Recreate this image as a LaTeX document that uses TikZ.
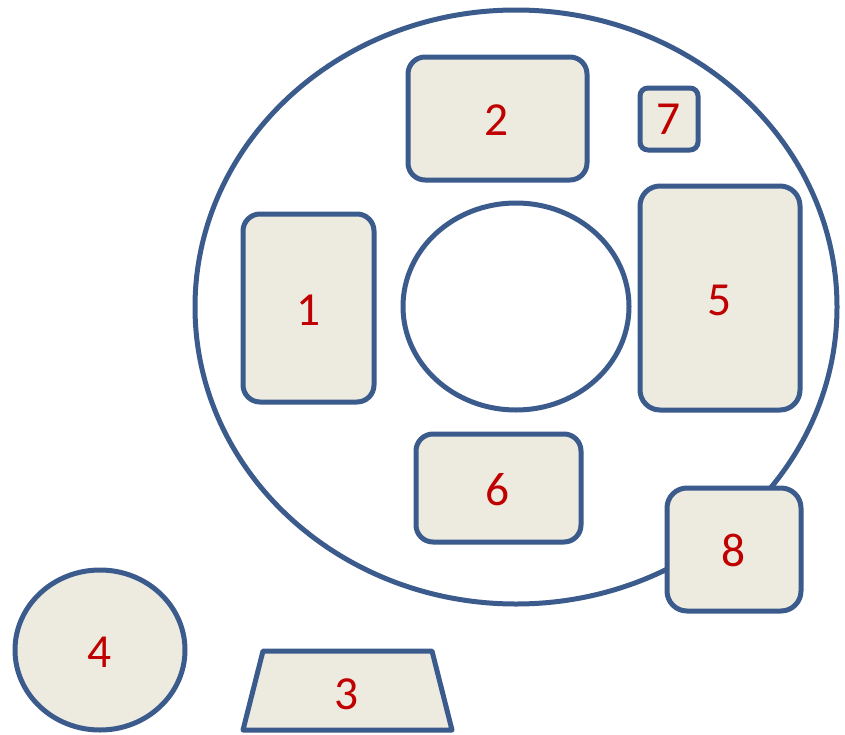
\documentclass[tikz,border=0pt]{standalone}
\usepackage{fontspec}
\setmainfont{Carlito}
\usepackage{xcolor}
\usetikzlibrary{positioning}
\definecolor{edgeblue}{RGB}{59,91,140}
\definecolor{boxfill}{RGB}{237,235,224}
\definecolor{numred}{RGB}{192,0,0}

\begin{document}
\begin{tikzpicture}[x=0.02cm, y=-0.02cm,
    partbox/.style={draw=edgeblue, line width=0.1cm, fill=boxfill, line join=round},
    num/.style={text=numred, font=\fontsize{27}{27}\selectfont}]
  \useasboundingbox (0,0) rectangle (845,734);

  % anel grande com o furo central
  \draw[draw=edgeblue, line width=0.1cm, fill=white] (516,307) ellipse [x radius=321, y radius=297];
  \draw[draw=edgeblue, line width=0.1cm, fill=white] (516,306.5) ellipse [x radius=113, y radius=103.5];

  % caixas dentro do anel
  \draw[partbox, rounded corners=0.34cm] (243,214) rectangle (374,402);  \node[num] (n1) at (309,310) {1};
  \draw[partbox, rounded corners=0.34cm] (408,57) rectangle (587,180);   \node[num] (n2) at (497,120) {2};
  \draw[partbox, rounded corners=0.16cm] (640,88) rectangle (698,150);   \node[num] (n7) at (669,119) {7};
  \draw[partbox, rounded corners=0.4cm]  (640,186) rectangle (800,410);  \node[num] (n5) at (720,300) {5};
  \draw[partbox, rounded corners=0.34cm] (416,434) rectangle (581,542);  \node[num] (n6) at (498,490) {6};

  % caixa sobre a borda do anel
  \draw[partbox, rounded corners=0.4cm]  (667,488) rectangle (801,611);  \node[num] (n8) at (734,550) {8};

  % formas de fora
  \draw[partbox] (100,650) ellipse [x radius=85, y radius=80];           \node[num] (n4) at (100,652) {4};
  \draw[partbox] (263,651) -- (432,651) -- (452,730) -- (243,730) -- cycle;
  \node[num] (n3) at (347,694) {3};
\end{tikzpicture}
\end{document}
